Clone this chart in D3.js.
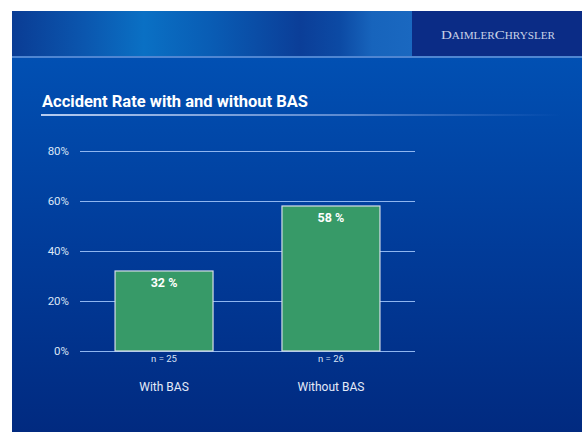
<!DOCTYPE html>
<html>
<head>
<meta charset="utf-8">
<script src="https://cdn.jsdelivr.net/npm/d3@7"></script>
<style>
  html, body { margin: 0; padding: 0; background: #ffffff; }
  svg { display: block; }
</style>
</head>
<body>
<svg id="chart" width="582" height="432"></svg>
<script>
// Accident rate by braking-assist condition
const categories = ["With BAS", "Without BAS"];
const rates = [32, 58];
const sampleSizes = ["n = 25", "n = 26"];
const yTicks = [0, 20, 40, 60, 80];
const titleText = "Accident Rate with and without BAS";
// Brand wordmark pieces: capital initials and small-cap remainders
const brandParts = [["D", true], ["AIMLER", false], ["C", true], ["HRYSLER", false]];

const svg = d3.select("#chart");
const defs = svg.append("defs");

// Slide body gradient
const bodyGrad = defs.append("linearGradient").attr("id", "bodyGrad")
  .attr("x1", 0).attr("y1", 0).attr("x2", 0).attr("y2", 1);
bodyGrad.append("stop").attr("offset", "0%").attr("stop-color", "#0150b3");
bodyGrad.append("stop").attr("offset", "50%").attr("stop-color", "#013c9a");
bodyGrad.append("stop").attr("offset", "100%").attr("stop-color", "#012a80");

// Header band gradient
const headGrad = defs.append("linearGradient").attr("id", "headGrad")
  .attr("x1", 0).attr("y1", 0).attr("x2", 1).attr("y2", 0);
[["0%", "#0a3c94"], ["18%", "#0b56ae"], ["33%", "#0a70c4"], ["50%", "#095cb4"],
 ["72%", "#0b3e98"], ["82%", "#0c4aa4"], ["90%", "#1764bc"], ["100%", "#1a68c0"]]
  .forEach(([o, c]) => headGrad.append("stop").attr("offset", o).attr("stop-color", c));

// Title underline fade
const lineGrad = defs.append("linearGradient").attr("id", "lineGrad")
  .attr("x1", 0).attr("y1", 0).attr("x2", 1).attr("y2", 0);
lineGrad.append("stop").attr("offset", "0%").attr("stop-color", "#b8cdf0").attr("stop-opacity", 1);
lineGrad.append("stop").attr("offset", "60%").attr("stop-color", "#7fa3e0").attr("stop-opacity", 0.7);
lineGrad.append("stop").attr("offset", "100%").attr("stop-color", "#5a86d4").attr("stop-opacity", 0);

// Background panels
svg.append("rect").attr("x", 12).attr("y", 56).attr("width", 570).attr("height", 376)
  .attr("fill", "url(#bodyGrad)");
svg.append("rect").attr("x", 12).attr("y", 11).attr("width", 400).attr("height", 46)
  .attr("fill", "url(#headGrad)");
svg.append("rect").attr("x", 412).attr("y", 11).attr("width", 170).attr("height", 46)
  .attr("fill", "#0b2c86");
svg.append("rect").attr("x", 12).attr("y", 56).attr("width", 570).attr("height", 2)
  .attr("fill", "#4f86d2");

// Brand wordmark
const brand = svg.append("text")
  .attr("x", 441).attr("y", 38.5)
  .attr("font-family", "'Liberation Serif', 'DejaVu Serif', serif")
  .attr("fill", "#c9d2e6")
  .attr("textLength", 114)
  .attr("lengthAdjust", "spacingAndGlyphs");
brand.selectAll("tspan").data(brandParts).join("tspan")
  .attr("font-size", d => d[1] ? 13.5 : 10)
  .text(d => d[0]);

// Title
svg.append("text")
  .attr("x", 42).attr("y", 107)
  .attr("font-family", "Roboto, 'Liberation Sans', sans-serif")
  .attr("font-weight", "bold")
  .attr("font-size", 16.5)
  .attr("fill", "#ffffff")
  .text(titleText);
svg.append("rect").attr("x", 41).attr("y", 114).attr("width", 520).attr("height", 2)
  .attr("fill", "url(#lineGrad)");

// Plot scales
const plotLeft = 80, plotRight = 415, plotTop = 151, plotBottom = 351;
const y = d3.scaleLinear().domain([0, 80]).range([plotBottom, plotTop]);
const x = d3.scaleBand().domain(categories).range([plotLeft, plotRight])
  .paddingInner(0.413).paddingOuter(0.21);

// Gridlines and tick labels via axis
const yAxis = d3.axisLeft(y).tickValues(yTicks)
  .tickSize(-(plotRight - plotLeft)).tickPadding(11)
  .tickFormat(d => d + "%");
const gy = svg.append("g").attr("transform", `translate(${plotLeft},0)`).call(yAxis);
gy.select(".domain").remove();
gy.selectAll(".tick line").attr("stroke", "#8fb6f0").attr("stroke-width", 1.2);
gy.selectAll(".tick text")
  .attr("fill", "#dce6f6")
  .attr("font-family", "Roboto, 'Liberation Sans', sans-serif")
  .attr("font-size", 11.5);

// Bars
const bars = svg.append("g");
bars.selectAll("rect").data(rates).join("rect")
  .attr("x", (d, i) => x(categories[i]))
  .attr("y", d => y(d))
  .attr("width", x.bandwidth())
  .attr("height", d => y(0) - y(d))
  .attr("fill", "#379a68")
  .attr("stroke", "#d6dde6")
  .attr("stroke-width", 1.2);

// Value labels
svg.append("g").selectAll("text").data(rates).join("text")
  .attr("x", (d, i) => x(categories[i]) + x.bandwidth() / 2)
  .attr("y", d => y(d) + 16)
  .attr("text-anchor", "middle")
  .attr("font-family", "Roboto, 'Liberation Sans', sans-serif")
  .attr("font-weight", "bold")
  .attr("font-size", 12.5)
  .attr("fill", "#ffffff")
  .text(d => d + " %");

// Sample sizes
svg.append("g").selectAll("text").data(sampleSizes).join("text")
  .attr("x", (d, i) => x(categories[i]) + x.bandwidth() / 2)
  .attr("y", plotBottom + 11)
  .attr("text-anchor", "middle")
  .attr("font-family", "Roboto, 'Liberation Sans', sans-serif")
  .attr("font-size", 9.5)
  .attr("fill", "#d8e2f4")
  .text(d => d);

// Category labels
svg.append("g").selectAll("text").data(categories).join("text")
  .attr("x", d => x(d) + x.bandwidth() / 2)
  .attr("y", plotBottom + 40)
  .attr("text-anchor", "middle")
  .attr("font-family", "Roboto, 'Liberation Sans', sans-serif")
  .attr("font-size", 12)
  .attr("fill", "#e4ebf8")
  .text(d => d);
</script>
</body>
</html>
